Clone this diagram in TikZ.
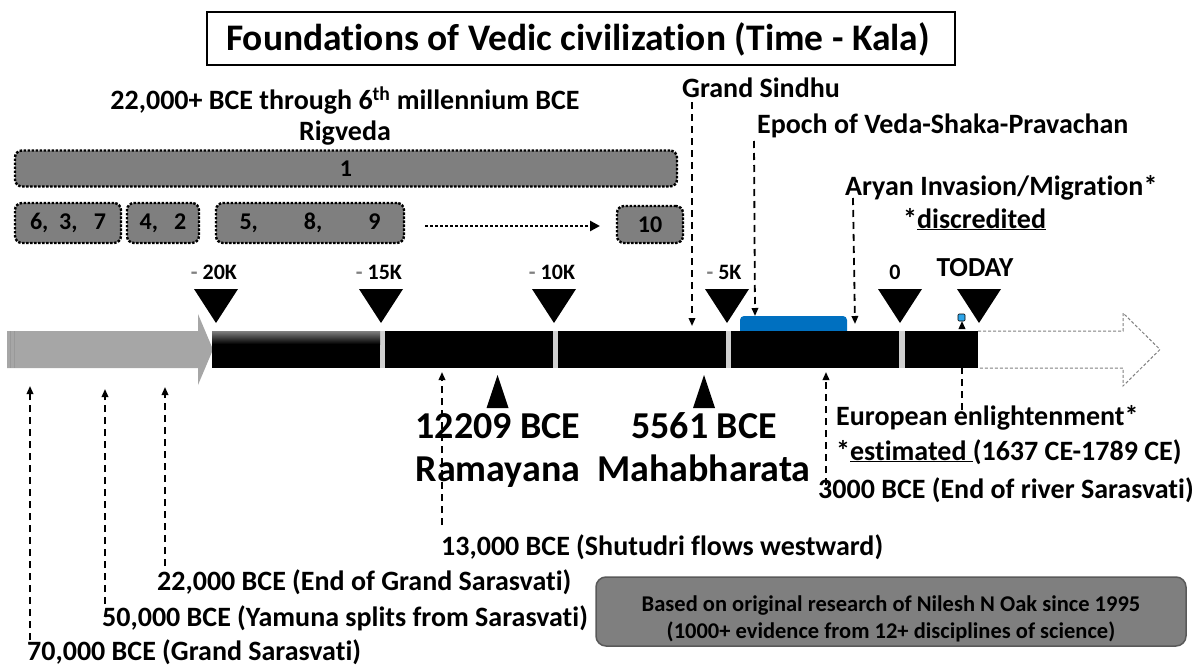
\documentclass[tikz,border=0pt]{standalone}
\usepackage{fontspec}
\setmainfont{Carlito}[Ligatures={NoCommon,NoRare,NoContextual}]
\usetikzlibrary{arrows.meta}
\definecolor{boxgray}{HTML}{7F7F7F}
\definecolor{arrgray}{HTML}{A6A6A6}
\definecolor{vblue}{HTML}{0070C0}
\definecolor{lblue}{HTML}{2EA4E8}
\definecolor{gapgray}{HTML}{D0D0D0}
\begin{document}
\begin{tikzpicture}[x=1pt,y=-1pt,
  every node/.style={inner sep=0pt},
  fs/.style={font=\bfseries\fontsize{#1}{#1}\selectfont},
  lbl/.style={anchor=base west, fs=28},
  clbl/.style={anchor=base, fs=#1},
  numbox/.style={draw=black, fill=boxgray, line width=2.4pt, dash pattern=on 2.4pt off 1.6pt, rounded corners=7pt, fs=24},
  dasharr/.style={line width=1.8pt, dash pattern=on 7pt off 5pt, -{Triangle[length=8pt,width=6.5pt]}},
]
\useasboundingbox (0,0) rectangle (1200,669);

% title
\node[draw, line width=2pt, minimum width=748pt, minimum height=53pt] (titlebox) at (581,38.5) {};
\node[clbl=37.5] (title) at (578,51) {Foundations of Vedic civilization (Time - Kala)};

% Rigveda block
\node[clbl=28] (era) at (345,110) {22,000+ BCE through 6\textsuperscript{th} millennium BCE};
\node[clbl=28] (rig) at (345,140) {Rigveda};
\node[numbox, minimum width=662pt, minimum height=36pt] (b1) at (346,168.5) {1};
\node[numbox, minimum width=106pt, minimum height=40pt] (b2) at (68,223) {6,\ \ 3,\ \ \ 7};
\node[numbox, minimum width=72pt, minimum height=40pt] (b3) at (163,223) {4,\ \ \ 2};
\node[numbox, minimum width=188pt, minimum height=40pt] (b4) at (310,223) {5,\hspace{46pt}8,\hspace{46pt}9};
\node[numbox, minimum width=66pt, minimum height=37pt] (b5) at (650,224.5) {10};
\coordinate (da1) at (425,226);
\coordinate (da2) at (600,226);
\draw[line width=2.6pt, dash pattern=on 2.6pt off 2.4pt, -{Triangle[length=10pt,width=10pt]}] (da1) -- (da2);

% tick labels
\node[clbl=22] (t20) at (214,279) {\textcolor{gray}{-} 20K};
\node[clbl=22] (t15) at (379,279) {\textcolor{gray}{-} 15K};
\node[clbl=22] (t10) at (552,279) {\textcolor{gray}{-} 10K};
\node[clbl=22] (t5) at (724,279) {\textcolor{gray}{-} 5K};
\node[clbl=22] (t0) at (895,279) {0};
\node[clbl=27.5] (today) at (975,276) {TODAY};
\foreach \x in {216,381,554,727,900,979}
  \fill (\x-22,289) -- (\x+22,289) -- (\x,323) -- cycle;

% blue epoch band
\fill[vblue, rounded corners=4pt] (740,316) rectangle (847,338);

% main bar
\fill[arrgray] (7,331) -- (198,331) -- (198,314) -- (213,349.5) -- (198,385) -- (198,368) -- (7,368) -- cycle;
\fill[gray!80] (10,331) rectangle (10.8,368);
\fill[gray!80] (14,331) rectangle (14.8,368);
\fill[gapgray] (378,331) rectangle (907,368);
\fill (212,331) rectangle (380,368);
\shade[top color=black!50, bottom color=black] (212,331) rectangle (380,344);
\fill (385,331) rectangle (553,368);
\fill (558,331) rectangle (726,368);
\fill (731,331) rectangle (899,368);
\fill (905,331) rectangle (978,368);
\draw[gray, line width=1pt, dash pattern=on 3pt off 2pt] (978,331) -- (1123,331) -- (1123,313) -- (1160,349.5) -- (1123,386) -- (1123,368) -- (978,368);
\draw[black, fill=lblue, line width=0.6pt, rounded corners=1pt] (958,314) rectangle (965,321);

% up triangles and epics
\fill (486.5,408) -- (508.5,408) -- (497.5,375) -- cycle;
\fill (693,408) -- (715,408) -- (704,375) -- cycle;
\node[clbl=38] (ram1) at (498,438) {12209 BCE};
\node[clbl=38] (ram2) at (498,481) {Ramayana};
\node[clbl=38] (mb1) at (704,438) {5561 BCE};
\node[clbl=38] (mb2) at (704,481) {Mahabharata};

% upper labels with arrows
\node[lbl] (gs) at (682,98) {Grand Sindhu};
\node[lbl] (ep) at (757,133) {Epoch of Veda-Shaka-Pravachan};
\node[lbl] (ar) at (845,195) {Aryan Invasion/Migration*};
\node[lbl] (disc) at (903,228) {*\underline{discredited}};
\coordinate (gsA) at (692,102); \coordinate (gsB) at (692,326);
\coordinate (epA) at (754,141); \coordinate (epB) at (755,316);
\coordinate (arA) at (853,198); \coordinate (arB) at (855,324);
\draw[dasharr] (gsA) -- (gsB);
\draw[dasharr] (epA) -- (epB);
\draw[dasharr] (arA) -- (arB);

% lower labels with arrows
\node[lbl] (eu) at (836,425) {European enlightenment*};
\node[lbl] (est) at (836,460) {*\underline{estimated\ }(1637 CE-1789 CE)};
\node[lbl] (s3) at (818,498) {3000 BCE (End of river Sarasvati)};
\node[lbl] (s13) at (441,555) {13,000 BCE (Shutudri flows westward)};
\node[lbl] (s22) at (157,590) {22,000 BCE (End of Grand Sarasvati)};
\node[lbl] (s50) at (102,626) {50,000 BCE (Yamuna splits from Sarasvati)};
\node[lbl] (s70) at (27,660) {70,000 BCE (Grand Sarasvati)};
\coordinate (euA) at (962,410); \coordinate (euB) at (962,321);
\coordinate (s3A) at (826,485); \coordinate (s3B) at (826,372);
\coordinate (s13A) at (442,525); \coordinate (s13B) at (442,372);
\coordinate (s22A) at (165,566); \coordinate (s22B) at (165,387);
\coordinate (s50A) at (105,604); \coordinate (s50B) at (105,389);
\coordinate (s70A) at (30,640); \coordinate (s70B) at (30,386);
\draw[dasharr] (euA) -- (euB);
\draw[dasharr] (s3A) -- (s3B);
\draw[dasharr] (s13A) -- (s13B);
\draw[dasharr] (s22A) -- (s22B);
\draw[dasharr] (s50A) -- (s50B);
\draw[dasharr] (s70A) -- (s70B);

% note box
\node[draw=black!65, fill=boxgray, line width=1.5pt, rounded corners=10pt, minimum width=590pt, minimum height=69pt] (note) at (891,611.5) {};
\node[clbl=22.5] (n1) at (891,611) {Based on original research of Nilesh N Oak since 1995};
\node[clbl=22.5] (n2) at (891,638) {(1000+ evidence from 12+ disciplines of science)};
\end{tikzpicture}
\end{document}
